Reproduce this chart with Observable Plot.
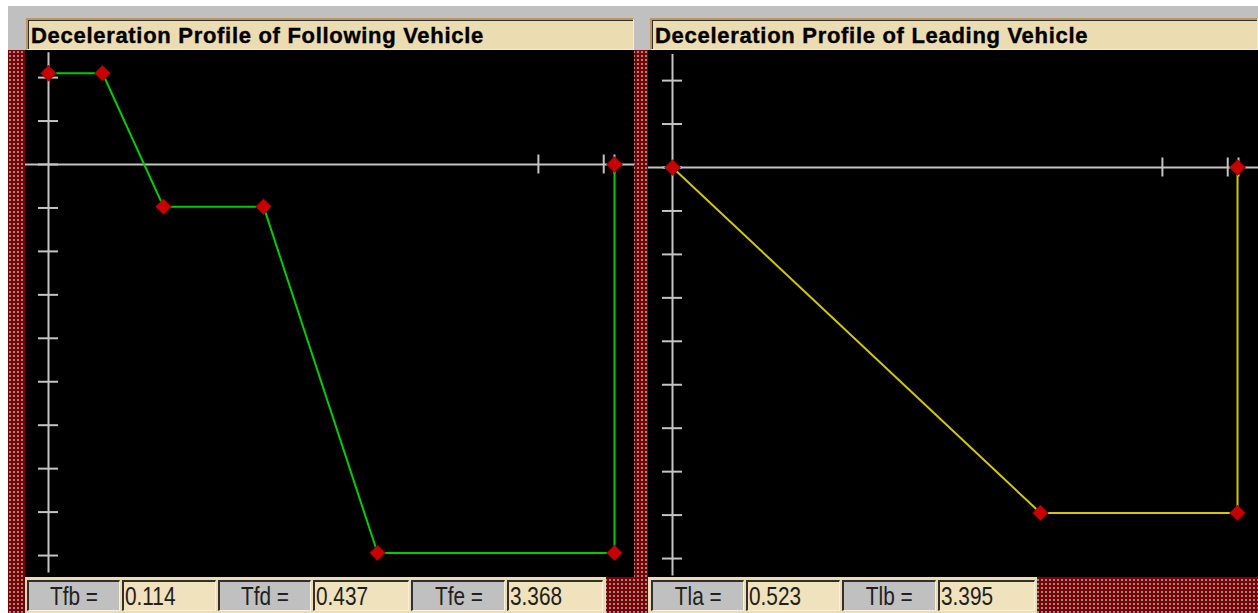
<!DOCTYPE html>
<html>
<head>
<meta charset="utf-8">
<script src="https://cdn.jsdelivr.net/npm/d3@7"></script>
<script src="https://cdn.jsdelivr.net/npm/@observablehq/plot@0.6"></script>
<style>
  html, body { margin: 0; padding: 0; background: #ffffff; width: 1258px; height: 613px; overflow: hidden; }
  #root { position: relative; width: 1258px; height: 613px; }
  .abs { position: absolute; }
  .frame { background: #c0c0c0; }
  .hatch {
    background-color: #7e0000;
    background-image: radial-gradient(circle, #8c8c8c 0.9px, transparent 1.3px);
    background-size: 4px 4px;
  }
  .title {
    background: #ecdcb2;
    border-top: 2px solid #b89a58; border-left: 2px solid #b89a58;
    border-right: 1px solid #f4ecd4; border-bottom: 1px solid #f4ecd4;
    box-shadow: inset 1px 1px 0 #303030;
    box-sizing: border-box;
    font-family: "Liberation Sans", Arial, sans-serif; font-weight: bold;
    font-size: 22px; letter-spacing: 0.7px; color: #000;
    line-height: 31px; padding-left: 3px; white-space: nowrap; overflow: hidden;
    -webkit-text-stroke: 0.4px #000;
  }
  .bar { background: #ecdcb2; }
  .box {
    position: absolute; top: 3px; height: 31px; box-sizing: border-box;
    border-top: 2px solid #303030; border-left: 2px solid #303030;
    border-right: 1px solid #f8f0dc; border-bottom: 1px solid #f8f0dc;
    font-family: "Liberation Sans", Arial, sans-serif; font-size: 26px; color: #202020;
    line-height: 28px; white-space: nowrap; overflow: hidden;
  }
  .lab { background: #c0c0c0; text-align: center; }
  .val { background: #efe2bc; text-align: left; padding-left: 1px; }
  .box span { display: inline-block; transform: scaleX(0.8); }
  .lab span { transform-origin: center; }
  .val span { transform-origin: left; }
</style>
</head>
<body>
<div id="root"></div>
<script>
// ---------- data ----------
const followTitle = "Deceleration Profile of Following Vehicle";
const leadTitle = "Deceleration Profile of Leading Vehicle";

// time (s) and deceleration values of the two profiles
const followTime  = [0, 0.331, 0.704, 1.317, 2.015, 3.466, 3.466];
const followDecel = [2.10, 2.10, -0.97, -0.97, -8.94, -8.94, 0];
const leadTime    = [0, 2.253, 3.46, 3.46];
const leadDecel   = [0, -7.95, -7.95, 0];

const yTicks = [2, 1, 0, -1, -2, -3, -4, -5, -6, -7, -8, -9];
const xTicks = [3.0, 3.4, 3.466];

const followLabels = ["Tfb =", "Tfd =", "Tfe ="];
const followValues = ["0.114", "0.437", "3.368"];
const leadLabels   = ["Tla =", "Tlb ="];
const leadValues   = ["0.523", "3.395"];

// ---------- layout ----------
const root = document.getElementById("root");
function div(cls, l, t, w, h, parent) {
  const d = document.createElement("div");
  d.className = "abs " + cls;
  Object.assign(d.style, {left: l + "px", top: t + "px", width: w + "px", height: h + "px"});
  (parent || root).appendChild(d);
  return d;
}

div("frame", 8, 6, 1250, 607);
div("hatch", 8, 50, 1250, 563);

const t1 = div("title", 26, 18, 608, 32); t1.textContent = followTitle;
const t2 = div("title", 650, 18, 608, 32); t2.textContent = leadTitle;

function chart(time, decel, color, x0, y0, w, h, axisTop, axisBottom) {
  const idx = time.map((_, i) => i);
  const pxPerSec = 163.3, pxPerUnit = 43.45;
  const tickHalfX = 10 / pxPerSec, tickHalfY = 9.5 / pxPerUnit;
  return Plot.plot({
    width: w, height: h, margin: 0,
    style: {background: "#000000", overflow: "visible"},
    x: {domain: [0, 3], range: [x0, x0 + 3 * pxPerSec], axis: null},
    y: {domain: [0, -9], range: [y0, y0 + 9 * pxPerUnit], axis: null},
    marks: [
      Plot.ruleY([0], {stroke: "#c4c4c4", strokeWidth: 2}),
      Plot.ruleX([0], {y1: axisTop, y2: axisBottom, stroke: "#c4c4c4", strokeWidth: 2}),
      Plot.ruleY(yTicks, {x1: -tickHalfX, x2: tickHalfX, stroke: "#c4c4c4", strokeWidth: 2}),
      Plot.ruleX(xTicks, {y1: tickHalfY, y2: -tickHalfY, stroke: "#c4c4c4", strokeWidth: 2}),
      Plot.line(idx, {x: i => time[i], y: i => decel[i], stroke: color, strokeWidth: 2}),
      Plot.dot(idx, {x: i => time[i], y: i => decel[i], symbol: "diamond2", r: 7,
                     fill: "#c80000", stroke: "#8a0000", strokeWidth: 1})
    ]
  });
}

const p1 = div("", 25, 50, 609, 527);
p1.appendChild(chart(followTime, followDecel, "#00cc00", 23, 114, 609, 527, 2.57, -9.4));
const p2 = div("", 648, 50, 610, 527);
p2.appendChild(chart(leadTime, leadDecel, "#d0c800", 24, 117, 610, 527, 2.6, -9.4));

function bar(labels, values, left, width, slots) {
  const b = div("bar", left, 577, width, 36);
  labels.forEach((lab, i) => {
    const [lx, lw, vx, vw] = slots[i];
    const l = document.createElement("div");
    l.className = "box lab";
    Object.assign(l.style, {left: (lx - left) + "px", width: lw + "px"});
    l.innerHTML = "<span></span>"; l.firstChild.textContent = lab;
    b.appendChild(l);
    const v = document.createElement("div");
    v.className = "box val";
    Object.assign(v.style, {left: (vx - left) + "px", width: vw + "px"});
    v.innerHTML = "<span></span>"; v.firstChild.textContent = values[i];
    b.appendChild(v);
  });
}
bar(followLabels, followValues, 25, 581, [[27, 93, 122, 94], [218, 93, 313, 96], [411, 94, 507, 96]]);
bar(leadLabels, leadValues, 648, 389, [[651, 93, 746, 94], [842, 94, 938, 97]]);
</script>
</body>
</html>
